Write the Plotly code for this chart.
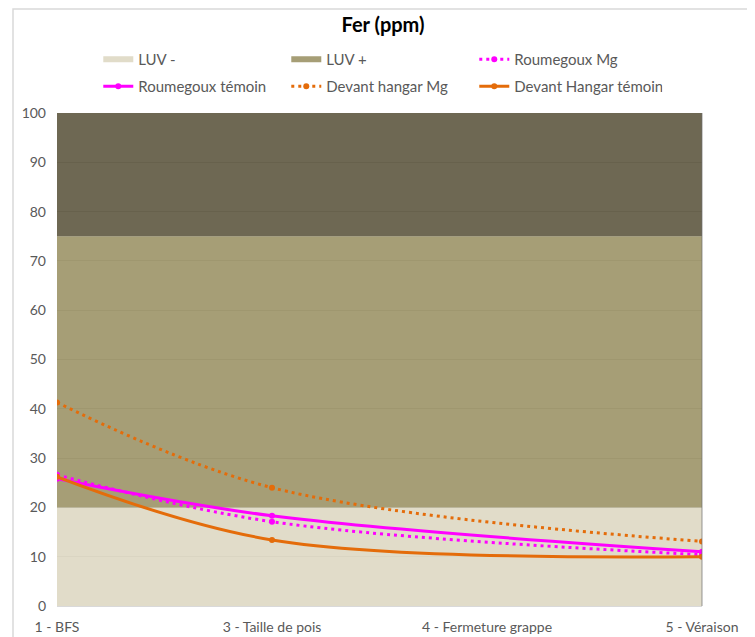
import plotly.graph_objects as go

# ---------- données ----------
stades = ["1 - BFS", "3 - Taille de pois", "4 - Fermeture grappe", "5 - Véraison"]

luv_moins = [20, 20, 20, 20]
luv_plus = [55, 55, 55, 55]
luv_haut = [25, 25, 25, 25]

roumegoux_mg = [26.6, 17.1, None, 10.4]
roumegoux_temoin = [25.8, 18.3, None, 11.0]
devant_hangar_mg = [41.3, 24.0, None, 13.1]
devant_hangar_temoin = [26.2, 13.4, None, 10.0]

y_ticks = list(range(0, 101, 10))

MAGENTA = "#FF00FF"
ORANGE = "#E46C0A"
POLICE = "Lato"

fig = go.Figure()

# bandes de fond (aire empilée)
fig.add_trace(go.Scatter(x=stades, y=luv_moins, name="LUV -", mode="none",
                         stackgroup="luv", fillcolor="rgba(217,211,188,0.8)",
                         hoverinfo="skip", legend="legend"))
fig.add_trace(go.Scatter(x=stades, y=luv_plus, name="LUV +", mode="none",
                         stackgroup="luv", fillcolor="rgba(144,134,84,0.8)",
                         hoverinfo="skip", legend="legend"))
fig.add_trace(go.Scatter(x=stades, y=luv_haut, name="haut", mode="none",
                         stackgroup="luv", fillcolor="rgba(74,66,40,0.8)",
                         showlegend=False, hoverinfo="skip"))

# séries (1re ligne de légende puis 2e ligne)
series = [
    ("Roumegoux Mg", roumegoux_mg, MAGENTA, "3px,4px", "legend"),
    ("Roumegoux témoin", roumegoux_temoin, MAGENTA, "solid", "legend2"),
    ("Devant hangar Mg", devant_hangar_mg, ORANGE, "3px,4px", "legend2"),
    ("Devant Hangar témoin", devant_hangar_temoin, ORANGE, "solid", "legend2"),
]
for nom, vals, coul, tiret, leg in series:
    fig.add_trace(go.Scatter(
        x=stades, y=vals, name=nom, mode="lines+markers", connectgaps=True,
        line=dict(color=coul, width=3, dash=tiret, shape="spline"),
        marker=dict(color=coul, size=6), legend=leg,
    ))

# cadre extérieur + bord droit
fig.add_shape(type="rect", xref="paper", yref="paper",
              x0=-0.0682, x1=1.0775, y0=-0.1, y1=1.211,
              line=dict(color="#D9D9D9", width=1.5), layer="below")
fig.add_shape(type="line", xref="paper", yref="y", x0=1, x1=1, y0=0, y1=100,
              line=dict(color="rgba(110,110,110,0.7)", width=1), layer="above")

legende = dict(orientation="h", xanchor="left", yanchor="top",
               entrywidth=143, entrywidthmode="pixels",
               font=dict(family=POLICE, size=15, color="#595959"),
               traceorder="normal", itemclick=False, bgcolor="rgba(0,0,0,0)")

# la page ajoute 8 px de marge : figure réduite d'autant
fig.update_layout(
    width=747, height=629,
    margin=dict(l=49, r=53, t=105, b=31, autoexpand=False),
    paper_bgcolor="white", plot_bgcolor="white",
    font=dict(family=POLICE, size=14, color="#595959"),
    title=dict(text="<b>Fer (ppm)</b>", x=0.502, xref="container", y=0.973,
               yref="container", xanchor="center", yanchor="middle",
               font=dict(family=POLICE, size=20, color="black")),
    legend=dict(legende, x=0.064, y=1.142),
    legend2=dict(legende, x=0.064, y=1.087),
    showlegend=True,
)
fig.update_xaxes(type="category", range=[0, 3], showgrid=False, zeroline=False,
                 showline=True, linecolor="#D9D9D9", ticks="", ticklabelstandoff=8,
                 automargin=False, tickfont=dict(size=14, color="#595959"))
fig.update_yaxes(range=[0, 100], tickvals=y_ticks, showgrid=True, gridcolor="#D9D9D9",
                 zeroline=False, showline=False, ticks="", ticklabelstandoff=10,
                 automargin=False, tickfont=dict(size=14, color="#595959"))

fig.write_html("out.html")
